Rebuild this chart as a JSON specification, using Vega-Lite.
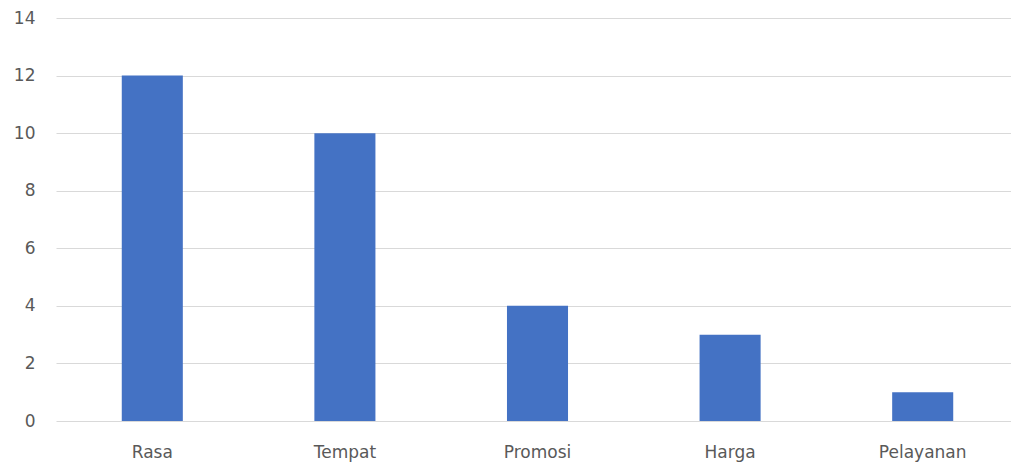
{
  "$schema": "https://vega.github.io/schema/vega-lite/v6.json",
  "width": 956,
  "height": 403,
  "autosize": {"type": "none"},
  "padding": {"left": 55, "top": 18, "right": 0, "bottom": 43},
  "background": "white",
  "config": {
    "view": {"stroke": null},
    "font": "DejaVu Sans",
    "axis": {"labelFont": "DejaVu Sans", "labelFontSize": 17, "labelColor": "#595959"}
  },
  "data": {
    "values": [
      {"kategori": "Rasa", "nilai": 12},
      {"kategori": "Tempat", "nilai": 10},
      {"kategori": "Promosi", "nilai": 4},
      {"kategori": "Harga", "nilai": 3},
      {"kategori": "Pelayanan", "nilai": 1}
    ]
  },
  "mark": {"type": "bar", "color": "#4472C4"},
  "encoding": {
    "x": {
      "field": "kategori",
      "type": "nominal",
      "sort": null,
      "scale": {"paddingInner": 0.683, "paddingOuter": 0.3415, "range": [1, 964]},
      "axis": {"title": null, "labelAngle": 0, "ticks": false, "domain": false, "labelPadding": 23, "grid": false}
    },
    "y": {
      "field": "nilai",
      "type": "quantitative",
      "scale": {"domain": [0, 14], "nice": false},
      "axis": {"title": null, "values": [0, 2, 4, 6, 8, 10, 12, 14], "ticks": false, "domain": false, "labelPadding": 20, "gridColor": "#d9d9d9", "gridWidth": 1}
    }
  }
}
